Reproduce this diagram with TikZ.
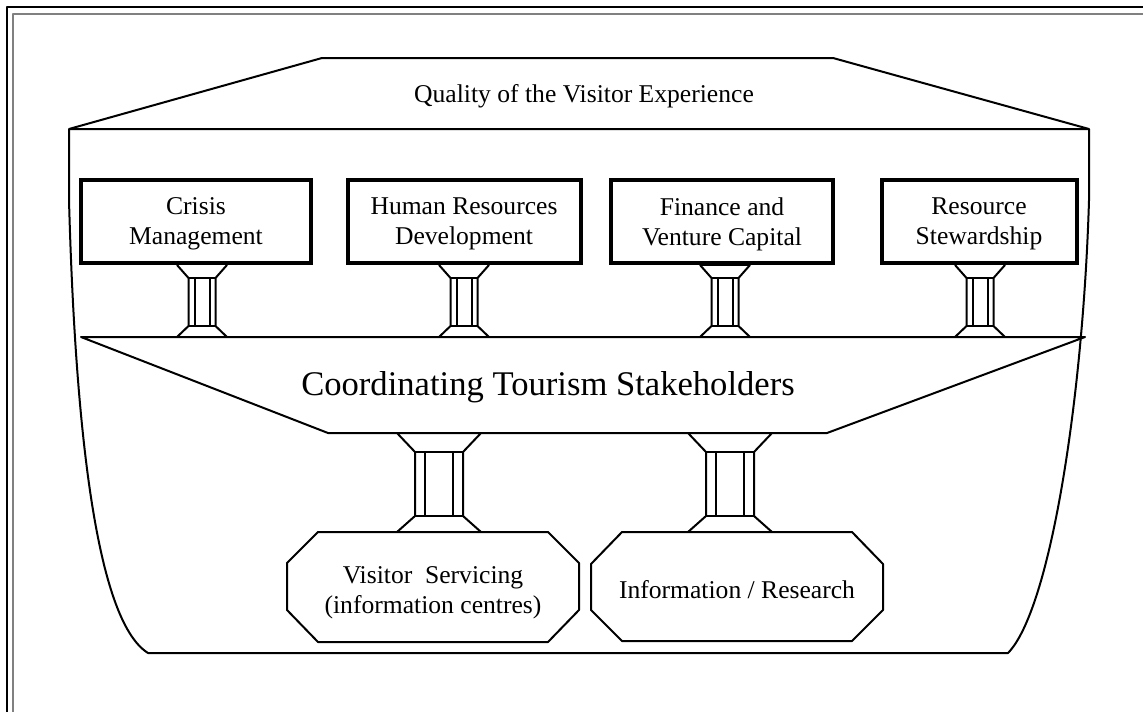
\documentclass[tikz,border=0pt]{standalone}
\usepackage{fontspec}
\setmainfont{Liberation Serif}
\begin{document}
\begin{tikzpicture}[x=0.5pt, y=-0.5pt, line join=round,
	thinline/.style={line width=1pt},
	thickbox/.style={line width=1.7pt, line join=miter},
	boxtext/.style={align=center, inner sep=0pt, font=\fontsize{12.8}{15}\selectfont}]
	\useasboundingbox (0,0) rectangle (1143,712);
	% frame
	\draw [line width=1pt] (7,712) -- (7,7) -- (1143,7);
	\draw [line width=1pt, gray] (13,712) -- (13,13.5) -- (1143,13.5);

	% outer shape
	\draw [thinline] (69,129) -- (322,58) -- (833,58) -- (1089,129) -- cycle;
	\draw [thinline] (69,129) -- (69,200) .. controls (75,420) and (95,620) .. (148,653)
		-- (1008,653) .. controls (1050,610) and (1083,400) .. (1089,200) -- (1089,129);
	\node [boxtext] (quality) at (584,96) {Quality of the Visitor Experience};

	% top boxes
	\foreach \l/\r in {81/311,348/581,611/833,882/1077}{
			\draw [thickbox] (\l,180) rectangle (\r,263);
		}
	\node [boxtext] (crisis) at (196,224) {Crisis\\Management};
	\node [boxtext] (human) at (464,224) {Human Resources\\Development};
	\node [boxtext] (finance) at (722,224) {Finance and\\Venture Capital};
	\node [boxtext] (steward) at (979,224) {Resource\\Stewardship};

	% upper pillars
	\foreach \c in {202,464,725,980}{
			\draw [thinline] (\c-25,265) -- (\c-13.5,278) -- (\c-13.5,326) -- (\c-25,337);
			\draw [thinline] (\c+25,265) -- (\c+13.5,278) -- (\c+13.5,326) -- (\c+25,337);
			\draw [thinline] (\c-13.5,278) -- (\c+13.5,278) (\c-13.5,326) -- (\c+13.5,326);
			\draw [thinline] (\c-7.5,278) -- (\c-7.5,326) (\c+7.5,278) -- (\c+7.5,326);
		}
	\draw [thickbox] (700,264) -- (750,264);

	% stakeholder bar
	\draw [thinline] (81,337) -- (1085,337) -- (827,433) -- (328,433) -- cycle;
	\node [inner sep=0pt, font=\fontsize{17.3}{20}\selectfont] (coord) at (548,387) {Coordinating Tourism Stakeholders};

	% lower pillars
	\foreach \c in {439,730}{
			\draw [thinline] (\c-42,433) -- (\c-24,452) -- (\c-24,516) -- (\c-42,532);
			\draw [thinline] (\c+42,433) -- (\c+24,452) -- (\c+24,516) -- (\c+42,532);
			\draw [thinline] (\c-24,452) -- (\c+24,452) (\c-24,516) -- (\c+24,516);
			\draw [thinline] (\c-14,452) -- (\c-14,516) (\c+14,452) -- (\c+14,516);
		}

	% bottom octagons
	\draw [thinline] (318,532) -- (548,532) -- (579,563) -- (579,610) -- (548,642) -- (318,642) -- (287,610) -- (287,563) -- cycle;
	\draw [thinline] (622,532) -- (852,532) -- (883,564) -- (883,610) -- (852,641) -- (622,641) -- (591,610) -- (591,564) -- cycle;
	\node [boxtext] (visitor) at (433,593) {Visitor\ \ Servicing\\(information centres)};
	\node [boxtext] (info) at (737,590) {Information / Research};
\end{tikzpicture}
\end{document}
